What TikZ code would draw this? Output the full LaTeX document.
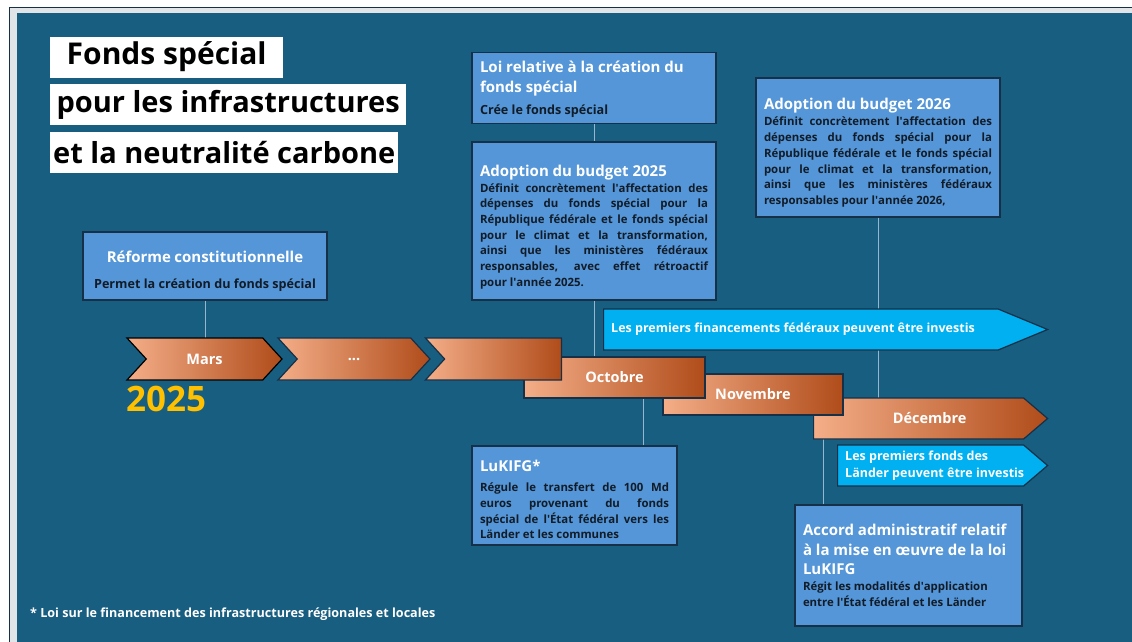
\documentclass[tikz,border=0pt]{standalone}
\usepackage{fontspec}
\setmainfont{Open Sans}
\usepackage{tikz}
\usepackage{xcolor}
\usetikzlibrary{shapes.symbols}

\definecolor{bgblue}{RGB}{24,94,128}
\definecolor{framegray}{RGB}{226,229,232}
\definecolor{boxblue}{RGB}{84,150,215}
\definecolor{boxline}{RGB}{22,48,72}
\definecolor{cyanarrow}{RGB}{0,176,240}
\definecolor{yearyellow}{RGB}{255,192,0}
\definecolor{orangeA}{RGB}{244,174,136}
\definecolor{orangeB}{RGB}{232,118,58}
\definecolor{orangeC}{RGB}{176,76,26}
\definecolor{linkgray}{RGB}{150,182,204}
\definecolor{bodytext}{RGB}{18,28,40}

\newcommand\BoxHead{\color{white}\bfseries\fontsize{15}{19.5}\selectfont}
\newcommand\BoxBody{\color{bodytext}\bfseries\fontsize{11.4}{15.7}\selectfont}
\newcommand\BoxLead{\color{bodytext}\bfseries\fontsize{12.6}{16}\selectfont}
\newcommand\ap{\textquotesingle}
\newcommand\lift[1]{\rule{0pt}{#1pt}}

\begin{document}
\begin{tikzpicture}[x=1pt,y=-1pt]
                        \tikzset{Box/.style={%
                                draw=boxline,%
                                fill=boxblue,%
                                line width=1.2pt,%
                                inner xsep=8pt,%
                                inner ysep=6pt,%
                                align=justify,%
                            },
                            Title/.style={%
                                fill=white,%
                                text=black,%
                                anchor=west,%
                                minimum height=41pt,%
                                inner xsep=3pt,%
                                font=\bfseries\fontsize{29}{29}\selectfont,%
                            },
                            Month/.style={%
                                draw=boxline,%
                                line width=1.2pt,%
                                left color=orangeA,%
                                middle color=orangeB,%
                                right color=orangeC,%
                                text=white,%
                                minimum height=42pt,%
                                inner sep=0pt,%
                                font=\bfseries\fontsize{14.5}{14.5}\selectfont,%
                            },
                            Chevron/.style={%
                                Month,%
                                shape=signal,%
                                signal from=west,%
                                signal to=east,%
                                signal pointer angle=95,%
                            },
                            Invest/.style={%
                                draw=boxline,%
                                line width=1.2pt,%
                                fill=cyanarrow,%
                                shape=signal,%
                                signal to=east,%
                                minimum height=41pt,%
                                inner sep=0pt,%
                                anchor=west,%
                            },
                            InvestText/.style={%
                                anchor=west,%
                                text=white,%
                                align=left,%
                                inner sep=0pt,%
                                font=\bfseries\fontsize{12.5}{17}\selectfont,%
                            },
                            Link/.style={draw=linkgray,line width=0.8pt}}

                            % frame and background
                            \useasboundingbox (0,0) rectangle (1132,641);
                            \fill[white] (0,0) rectangle (1132,641);
                            \draw[boxline,fill=framegray,line width=1pt] (9,7) rectangle (1140,650);
                            \fill[bgblue] (17,13) rectangle (1140,650);

                            % title
                            \node[Title, font=\bfseries\fontsize{30}{30}\selectfont, minimum width=233pt] (titleA) at (50,57) {Fonds spécial};
                            \node[Title, minimum width=356pt] (titleB) at (50,104.5) {pour les infrastructures};
                            \node[Title, minimum width=348pt] (titleC) at (50,152.5) {et la neutralité carbone};

                            % boxes
                            \node[Box, align=center, text width=228pt, minimum height=68pt] (reforme) at (205,266)
                                {{\BoxHead\lift{22}Réforme constitutionnelle\par}\vspace{10pt}
                                 {\BoxLead Permet la création du fonds spécial\par}};
                            \node[Box, text width=228pt, minimum height=70pt] (loi) at (594,88)
                                {{\BoxHead\lift{14}Loi relative à la création du\newline fonds spécial\par}\vspace{6pt}
                                 {\BoxLead Crée le fonds spécial\par}};
                            \node[Box, text width=228pt, minimum height=158pt] (budgetA) at (594,221)
                                {{\BoxHead\lift{23.5}Adoption du budget 2025\par}
                                 {\BoxBody Définit concrètement l\ap affectation des\linebreak
                                  dépenses du fonds spécial pour la\linebreak
                                  République fédérale et le fonds spécial\linebreak
                                  pour le climat et la transformation,\linebreak
                                  ainsi que les ministères fédéraux\linebreak
                                  responsables, avec effet rétroactif\linebreak
                                  pour l\ap année 2025.\par}};
                            \node[Box, text width=228pt, minimum height=139pt] (budgetB) at (878,147.5)
                                {{\BoxHead\lift{21.5}Adoption du budget 2026\par}\vspace{1pt}
                                 {\BoxBody Définit concrètement l\ap affectation des\linebreak
                                  dépenses du fonds spécial pour la\linebreak
                                  République fédérale et le fonds spécial\linebreak
                                  pour le climat et la transformation,\linebreak
                                  ainsi que les ministères fédéraux\linebreak
                                  responsables pour l\ap année 2026,\par}};
                            \node[Box, text width=189pt, minimum height=97pt] (lukifg) at (574.5,495.5)
                                {{\BoxHead\lift{19}LuKIFG*\par}\vspace{5pt}
                                 {\BoxBody Régule le transfert de 100 Md\linebreak
                                  euros provenant du fonds\linebreak
                                  spécial de l\ap État fédéral vers les\linebreak
                                  Länder et les communes\par}};
                            \node[Box, text width=211pt, minimum height=121pt] (accord) at (908.5,565.5)
                                {{\BoxHead Accord administratif relatif\newline
                                  à la mise en œuvre de la loi\newline LuKIFG\par}
                                 {\BoxBody Régit les modalités d\ap application\newline
                                  entre l\ap État fédéral et les Länder\par}};

                            % connectors
                            \path[Link] (reforme) edge (reforme.south |- 0,338);
                            \path[Link] (loi) edge (budgetA);
                            \path[Link] (budgetA.south) edge (budgetA.south |- 0,357);
                            \path[Link] (budgetB.south) edge (budgetB.south |- 0,398);
                            \path[Link] (lukifg.north -| 643,0) edge (643,398);
                            \path[Link] (accord.north -| 823,0) edge (823,439);

                            % timeline
                            \node[Month, shape=signal, signal to=east, signal pointer angle=81, anchor=west,
                                  minimum width=234pt, minimum height=41pt] (dec) at (813,418.5) {\hspace{22pt}Décembre};
                            \node[Month, minimum width=180pt, minimum height=41pt] (nov) at (753,394.5) {Novembre};
                            \node[Month, minimum width=181pt, minimum height=41pt] (oct) at (614.5,377.5) {Octobre};
                            \node[Chevron, signal to=nowhere, anchor=east, minimum width=136pt] (sept) at (562,359) {};
                            \node[Chevron, minimum width=152pt] (dots) at (354,359) {...};
                            \node[Chevron, draw=black, minimum width=155pt] (mars) at (204.5,359) {Mars};
                            \node[text=yearyellow, anchor=west, inner sep=0pt,
                                  font=\bfseries\fontsize{35}{35}\selectfont] (year) at (126,398.5) {2025};

                            \node[Invest, signal pointer angle=45, minimum width=444pt] (fedinv) at (603,329.5) {};
                            \node[InvestText] (fedtext) at ([xshift=8pt]fedinv.west)
                                {Les premiers financements fédéraux peuvent être investis};
                            \node[Invest, signal pointer angle=81, minimum width=210pt] (landinv) at (837,465.5) {};
                            \node[InvestText] (landtext) at ([xshift=8pt]landinv.west)
                                {Les premiers fonds des\\Länder peuvent être investis};

                            \node[anchor=west, text=white, inner sep=0pt,
                                  font=\bfseries\fontsize{12.6}{12.6}\selectfont] (note) at (30,614)
                                {* Loi sur le financement des infrastructures régionales et locales};
                    \end{tikzpicture}
\end{document}
